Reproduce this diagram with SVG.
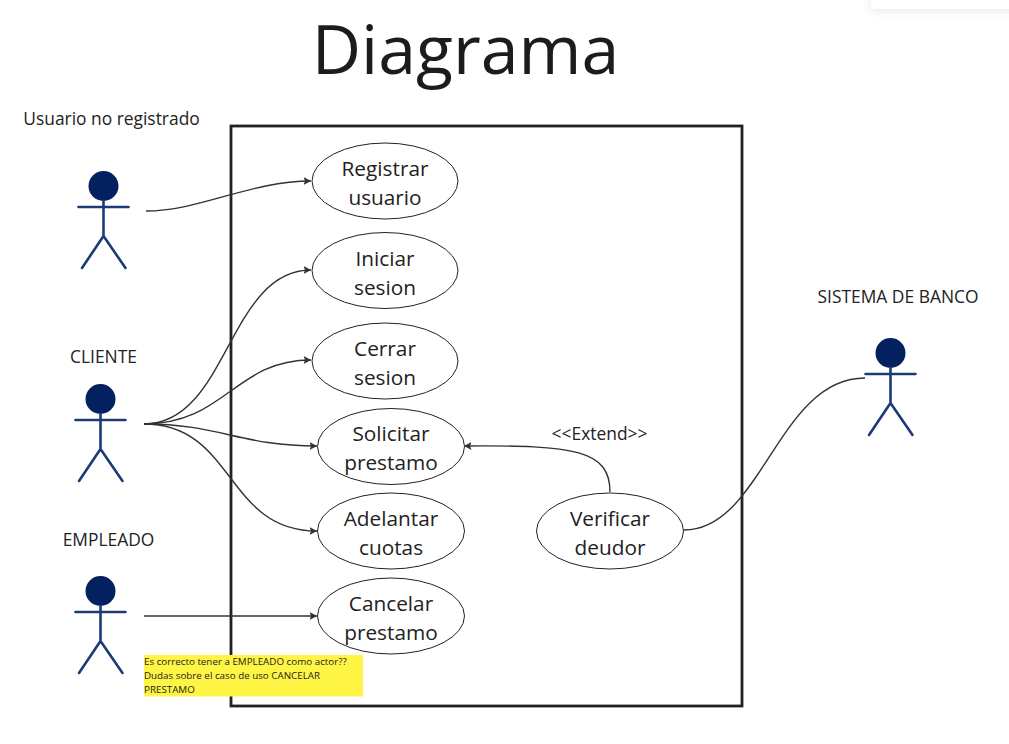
<svg xmlns="http://www.w3.org/2000/svg" width="1009" height="744" viewBox="0 0 1009 744">
<style>
text{font-family:"Open Sans","Liberation Sans",sans-serif;fill:#222;text-anchor:middle}
.uc{font-size:20.800px}
.lb{font-size:17.400px}
.nt{font-size:9.800px;text-anchor:start}
.el{fill:#fff;stroke:#222;stroke-width:1}
.st{stroke:#1d3a78;stroke-width:2.6;fill:none;stroke-linecap:round;stroke-linejoin:round}
.hd{fill:#03205f}
.cn{fill:none;stroke:#333;stroke-width:1.4}
</style>
<defs>
<marker id="arr" markerUnits="userSpaceOnUse" markerWidth="9" markerHeight="10" refX="7.500" refY="4" orient="auto"><path d="M0,0L7.500,4L0,8L1.500,4Z" fill="#333"/></marker>
<filter id="sh" x="-20%" y="-200%" width="140%" height="500%"><feDropShadow dx="0" dy="2" stdDeviation="5" flood-color="#000" flood-opacity="0.09"/></filter>
<g id="fig"><circle class="hd" cx="0" cy="0" r="15"/><path class="st" d="M-25,21H25M0,15V50M-21.500,82L0,50L22,82"/></g>
</defs>
<rect width="1009" height="744" fill="#fff"/>
<rect x="871" y="-20" width="160" height="29" rx="4" fill="#fff" filter="url(#sh)"/>
<text x="465.500" y="74" font-size="68" style="fill:#1c1c1c">Diagrama</text>
<rect id="system" x="231" y="126" width="511" height="580" fill="none" stroke="#222" stroke-width="2.800"/>
<g id="connectors">
<path class="cn" marker-end="url(#arr)" d="M146,211C200,211 250,181 311,181"/>
<path class="cn" marker-end="url(#arr)" d="M144,424C228,424 228,270 311,270"/>
<path class="cn" marker-end="url(#arr)" d="M144,424C225,424 235,360 311,360"/>
<path class="cn" marker-end="url(#arr)" d="M144,424C220,424 240,446 317,446"/>
<path class="cn" marker-end="url(#arr)" d="M144,424C235,424 225,531 317,531"/>
<path class="cn" marker-end="url(#arr)" d="M144,616H317"/>
<path class="cn" marker-end="url(#arr)" d="M610,492C610,450 575,445 464,446"/>
<path class="cn" d="M684,530C762,530 778,378 865,378"/>
</g>
<g id="uc-registrar"><ellipse class="el" cx="385" cy="181" rx="73" ry="38"/><text class="uc" x="385" y="176">Registrar</text><text class="uc" x="385" y="204.500">usuario</text></g>
<g id="uc-iniciar"><ellipse class="el" cx="385" cy="270.500" rx="73" ry="38"/><text class="uc" x="385" y="265.500">Iniciar</text><text class="uc" x="385" y="294.500">sesion</text></g>
<g id="uc-cerrar"><ellipse class="el" cx="385" cy="361" rx="73" ry="38"/><text class="uc" x="385" y="355.500">Cerrar</text><text class="uc" x="385" y="384.500">sesion</text></g>
<g id="uc-solicitar"><ellipse class="el" cx="391" cy="446.500" rx="73.500" ry="38"/><text class="uc" x="391" y="440.500">Solicitar</text><text class="uc" x="391" y="469.500">prestamo</text></g>
<g id="uc-adelantar"><ellipse class="el" cx="391" cy="531" rx="73.500" ry="38"/><text class="uc" x="391" y="525.500">Adelantar</text><text class="uc" x="391" y="554.500">cuotas</text></g>
<g id="uc-cancelar"><ellipse class="el" cx="391" cy="616" rx="73.500" ry="38"/><text class="uc" x="391" y="610.500">Cancelar</text><text class="uc" x="391" y="639.500">prestamo</text></g>
<g id="uc-verificar"><ellipse class="el" cx="610" cy="531" rx="73.500" ry="38"/><text class="uc" x="610" y="525.500">Verificar</text><text class="uc" x="610" y="554.500">deudor</text></g>
<text class="lb" x="599.500" y="440">&lt;&lt;Extend&gt;&gt;</text>
<g id="actor-usuario"><text class="lb" x="111.500" y="125">Usuario no registrado</text><use href="#fig" x="103.500" y="186"/></g>
<g id="actor-cliente"><text class="lb" x="103.500" y="362.500">CLIENTE</text><use href="#fig" x="100.500" y="399"/></g>
<g id="actor-empleado"><text class="lb" x="108.500" y="545.500">EMPLEADO</text><use href="#fig" x="100.500" y="591"/></g>
<g id="actor-banco"><text class="lb" x="898" y="303">SISTEMA DE BANCO</text><use href="#fig" x="890.500" y="353"/></g>
<g id="note"><rect x="144" y="655" width="219" height="41.500" fill="#fff544"/>
<text class="nt" x="144" y="665">Es correcto tener a EMPLEADO como actor??</text>
<text class="nt" x="144" y="679">Dudas sobre el caso de uso CANCELAR</text>
<text class="nt" x="144" y="693">PRESTAMO</text></g>
</svg>
